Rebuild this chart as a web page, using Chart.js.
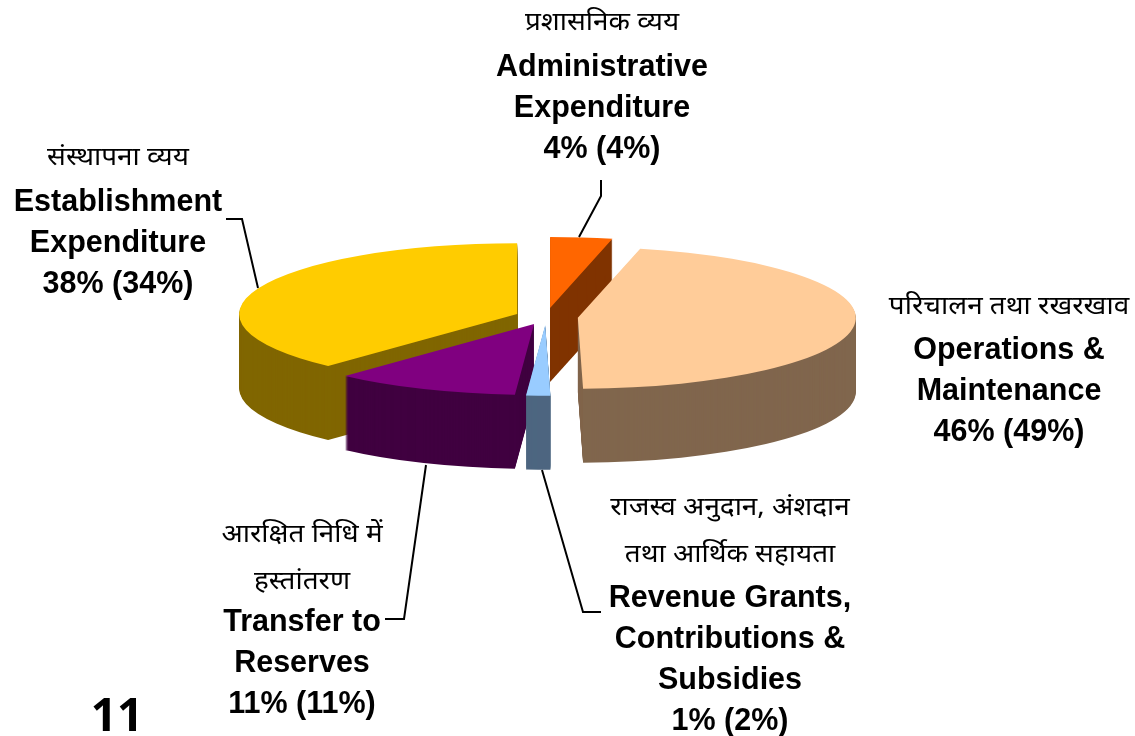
<!DOCTYPE html>
<html>
<head>
<meta charset="utf-8">
<style>
  html, body { margin: 0; padding: 0; background: #fff; }
  canvas { display: block; }
</style>
<script src="https://cdn.jsdelivr.net/npm/chart.js@4"></script>
</head>
<body>
<canvas id="pieChart" width="1135" height="736"></canvas>
<script>
// slice order follows the clock, starting at 12
const categories = [
  ['Administrative', 'Expenditure'],
  ['Operations &', 'Maintenance'],
  ['Revenue Grants,', 'Contributions &', 'Subsidies'],
  ['Transfer to', 'Reserves'],
  ['Establishment', 'Expenditure']
];
const hindiNames = [
  ['प्रशासनिक व्यय'],
  ['परिचालन तथा रखरखाव'],
  ['राजस्व अनुदान, अंशदान', 'तथा आर्थिक सहायता'],
  ['आरक्षित निधि में', 'हस्तांतरण'],
  ['संस्थापना व्यय']
];
const sliceValues = [3.6, 46.1, 1.4, 10.8, 38.1];
const shownCurrent = [4, 46, 1, 11, 38];
const shownPrevious = [4, 49, 2, 11, 34];
const pageNumber = '11';

const topColors = ['#FF6600', '#FFCC99', '#99CCFF', '#800080', '#FFCC00'];
const wallColors = ['#803300', '#80664D', '#4D6680', '#400040', '#806600'];
const explode = [36, 32, 31, 30, 31];
const drawOrder = [0, 4, 1, 3, 2];
const squash = 0.255;
const depth = 74;

// centre x and first baseline of each label block
const labelSpots = [
  { x: 602, hindi: 30, bold: 76 },
  { x: 1009, hindi: 314, bold: 359 },
  { x: 730, hindi: 515, bold: 607 },
  { x: 302, hindi: 542, bold: 631 },
  { x: 118, hindi: 165, bold: 211 }
];
const leaders = [
  [[601, 180], [601, 196], [579, 237]],
  [[542, 470], [583, 612], [601, 612]],
  [[385, 619], [404, 619], [426, 465]],
  [[226, 219], [242, 219], [258, 288]]
];

function drawSlice(ctx, el, i, color, z) {
  const mid = (el.startAngle + el.endAngle) / 2;
  const base = el.options;
  el.options = { ...base, backgroundColor: color };
  ctx.save();
  ctx.translate(el.x, el.y + z);
  ctx.scale(1, squash);
  ctx.translate(-el.x, -el.y);
  ctx.translate(Math.cos(mid) * explode[i], Math.sin(mid) * explode[i]);
  el.draw(ctx);
  ctx.restore();
  el.options = base;
}

// tilted pie: stack the library's own arcs to get the walls
const tiltedPie = {
  id: 'tiltedPie',
  beforeDatasetDraw(chart, args) {
    const ctx = chart.ctx;
    const arcs = args.meta.data;
    drawOrder.forEach(i => {
      for (let z = depth; z > 0; z--) {
        drawSlice(ctx, arcs[i], i, wallColors[i], z);
      }
      drawSlice(ctx, arcs[i], i, topColors[i], 0);
    });
    return false;
  }
};

// the Hindi lines in the original are set wider than this font, so stretch them
function hindiLine(ctx, text, x, y) {
  ctx.save();
  ctx.translate(x, y);
  ctx.scale(1.115, 1);
  ctx.fillText(text, 0, 0);
  ctx.restore();
}

const labelsAndLines = {
  id: 'labelsAndLines',
  afterDraw(chart) {
    const ctx = chart.ctx;
    ctx.save();
    ctx.strokeStyle = '#000';
    ctx.lineWidth = 2;
    leaders.forEach(pts => {
      ctx.beginPath();
      pts.forEach((p, n) => n ? ctx.lineTo(p[0], p[1]) : ctx.moveTo(p[0], p[1]));
      ctx.stroke();
    });

    ctx.fillStyle = '#000';
    ctx.textAlign = 'center';
    categories.forEach((lines, i) => {
      const spot = labelSpots[i];
      ctx.font = '25px "Noto Sans", "DejaVu Sans", sans-serif';
      hindiNames[i].forEach((t, n) => hindiLine(ctx, t, spot.x, spot.hindi + n * 47));
      ctx.font = 'bold 30.5px "Liberation Sans", Arial, sans-serif';
      lines.forEach((t, n) => ctx.fillText(t, spot.x, spot.bold + n * 41));
      ctx.fillText(shownCurrent[i] + '% (' + shownPrevious[i] + '%)', spot.x, spot.bold + lines.length * 41);
    });

    ctx.font = 'bold 46px "Open Sans", sans-serif';
    ctx.fillText(pageNumber, 117, 731);
    ctx.restore();
  }
};

new Chart(document.getElementById('pieChart'), {
  type: 'pie',
  data: {
    labels: categories.map(c => c.join(' ')),
    datasets: [{
      data: sliceValues,
      backgroundColor: topColors,
      borderWidth: 0
    }]
  },
  options: {
    responsive: false,
    animation: false,
    radius: 278,
    layout: { padding: { right: 43, bottom: 102 } },
    plugins: { legend: { display: false }, tooltip: { enabled: false } }
  },
  plugins: [tiltedPie, labelsAndLines]
});
</script>
</body>
</html>
